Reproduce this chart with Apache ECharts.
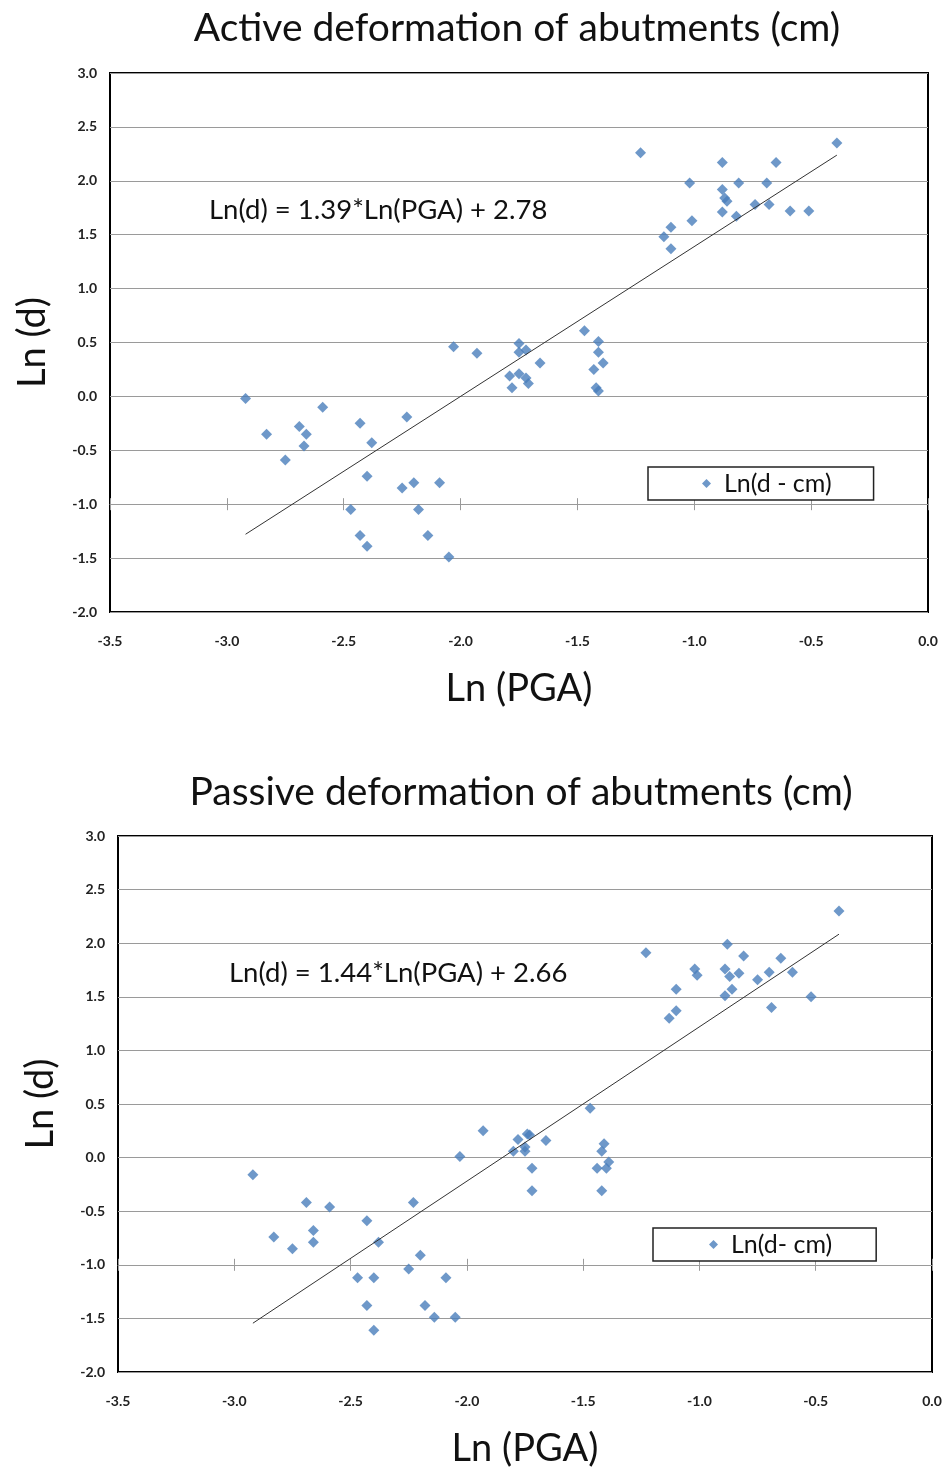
<!DOCTYPE html>
<html><head><meta charset="utf-8">
<script src="https://cdn.jsdelivr.net/npm/echarts@6/dist/echarts.min.js"></script>
<style>html,body{margin:0;padding:0;background:#fff}#c{width:946px;height:1469px}</style>
</head><body><div id="c"></div>
<script>
// ---- Data ----
const activePGA = [-2.92,-2.83,-2.75,-2.69,-2.66,-2.67,-2.59,-2.43,-2.38,-2.40,-2.47,-2.43,-2.40,-2.25,-2.23,-2.20,-2.18,-2.14,-2.09,-2.05,-2.03,-1.93,
  -1.75,-1.75,-1.72,-1.66,-1.79,-1.75,-1.72,-1.71,-1.78,-1.47,-1.41,-1.41,-1.39,-1.43,-1.42,-1.41,
  -1.23,-0.88,-0.65,-0.39,-1.02,-0.81,-0.69,-0.88,-0.87,-0.86,-0.74,-0.68,-0.59,-0.51,-0.88,-0.82,-1.01,-1.10,-1.13,-1.10];
const activeD = [-0.02,-0.35,-0.59,-0.28,-0.35,-0.46,-0.10,-0.25,-0.43,-0.74,-1.05,-1.29,-1.39,-0.85,-0.19,-0.80,-1.05,-1.29,-0.80,-1.49,0.46,0.40,
  0.49,0.41,0.43,0.31,0.19,0.21,0.17,0.12,0.08,0.61,0.51,0.41,0.31,0.25,0.08,0.05,
  2.26,2.17,2.17,2.35,1.98,1.98,1.98,1.92,1.84,1.81,1.78,1.78,1.72,1.72,1.71,1.67,1.63,1.57,1.48,1.37];
const passivePGA = [-2.92,-2.69,-2.59,-2.83,-2.75,-2.66,-2.66,-2.43,-2.38,-2.23,-2.20,-2.25,-2.47,-2.40,-2.09,-2.43,-2.18,-2.14,-2.05,-2.40,-2.03,
  -1.93,-1.78,-1.74,-1.73,-1.66,-1.80,-1.75,-1.75,-1.72,-1.72,-1.47,-1.41,-1.42,-1.39,-1.44,-1.40,-1.42,
  -1.23,-0.88,-0.81,-0.65,-0.40,-1.02,-1.01,-0.89,-0.87,-0.83,-0.70,-0.60,-0.75,-1.10,-0.86,-0.89,-0.52,-0.69,-1.10,-1.13];
const passiveD = [-0.16,-0.42,-0.46,-0.74,-0.85,-0.68,-0.79,-0.59,-0.79,-0.42,-0.91,-1.04,-1.12,-1.12,-1.12,-1.38,-1.38,-1.49,-1.49,-1.61,0.01,
  0.25,0.17,0.22,0.21,0.16,0.06,0.06,0.10,-0.10,-0.31,0.46,0.13,0.06,-0.04,-0.10,-0.10,-0.31,
  1.91,1.99,1.88,1.86,2.30,1.76,1.70,1.76,1.69,1.72,1.73,1.73,1.66,1.57,1.57,1.51,1.50,1.40,1.37,1.30];
const activeFit = {slope: 1.39, intercept: 2.78};
const passiveFit = {slope: 1.44, intercept: 2.66};
const titles = ['Active deformation of abutments (cm)', 'Passive deformation of abutments (cm)'];
const equations = ['Ln(d) = 1.39*Ln(PGA) + 2.78', 'Ln(d) = 1.44*Ln(PGA) + 2.66'];
const legendNames = ['Ln(d - cm)', 'Ln(d- cm)'];
const xName = 'Ln (PGA)', yName = 'Ln (d)';

// ---- Layout ----
const grids = [
  {left: 110, top: 73, width: 818, height: 539},
  {left: 118, top: 836, width: 814, height: 536}
];
const FONT = 'Lato, "Open Sans", sans-serif';
const fmt = v => v.toFixed(1);

function fitLine(xs, fit) {
  const mn = Math.min(...xs), mx = Math.max(...xs);
  return [[mn, fit.slope * mn + fit.intercept], [mx, fit.slope * mx + fit.intercept]];
}

const xAxes = [], yAxes = [], series = [];
grids.forEach((g, gi) => {
  yAxes.push({
    type: 'value', gridIndex: gi, min: -2, max: 3, interval: 0.5,
    name: yName, nameLocation: 'middle', nameGap: 58, nameRotate: 90,
    nameTextStyle: {fontFamily: FONT, fontSize: 38, color: '#111'},
    axisLine: {show: false, onZero: false}, axisTick: {show: false},
    axisLabel: {formatter: fmt, fontFamily: FONT, fontWeight: 'bold', fontSize: 14, color: '#222', margin: 13,
      showMinLabel: true, showMaxLabel: true},
    splitLine: {show: true, lineStyle: {color: '#9a9a9a', width: 1}}
  });
  // label axis at the bottom
  xAxes.push({
    type: 'value', gridIndex: gi, position: 'bottom', min: -3.5, max: 0, interval: 0.5,
    name: xName, nameLocation: 'middle', nameGap: 58,
    nameTextStyle: {fontFamily: FONT, fontSize: 38, color: '#111'},
    axisLine: {show: false, onZero: false}, axisTick: {show: false}, splitLine: {show: false},
    axisLabel: {formatter: fmt, fontFamily: FONT, fontWeight: 'bold', fontSize: 14, color: '#222', margin: 22,
      showMinLabel: true, showMaxLabel: true}
  });
  // crossing axis line at Ln(d) = -1 with ticks on both sides
  [false, true].forEach(inside => {
    xAxes.push({
      type: 'value', gridIndex: gi, position: 'bottom', min: -3.5, max: 0, interval: 0.5,
      offset: -g.height / 5,
      axisLine: {show: !inside, onZero: false, lineStyle: {color: '#9a9a9a', width: 1}},
      axisTick: {show: true, inside: inside, length: 6, lineStyle: {color: '#9a9a9a', width: 1}},
      axisLabel: {show: false}, splitLine: {show: false}
    });
  });
});

const sets = [[activePGA, activeD, activeFit], [passivePGA, passiveD, passiveFit]];
sets.forEach(([xs, ys, fit], gi) => {
  series.push({
    type: 'scatter', name: legendNames[gi], xAxisIndex: gi * 3, yAxisIndex: gi,
    data: xs.map((x, i) => [x, ys[i]]), symbol: 'diamond', symbolSize: 11,
    itemStyle: {color: '#4a7ebb'}, z: 3
  });
  series.push({
    type: 'line', xAxisIndex: gi * 3, yAxisIndex: gi, data: fitLine(xs, fit),
    symbol: 'none', silent: true, lineStyle: {color: '#333', width: 1}, z: 4
  });
});

const legendBase = {icon: 'diamond', itemWidth: 9, itemHeight: 9, borderColor: '#222', borderWidth: 1.5,
  backgroundColor: '#fff', textStyle: {fontFamily: FONT, fontSize: 25, color: '#111', padding: [0, 0, 0, 8]}};
const option = {
  backgroundColor: '#fff',
  animation: false,
  grid: grids.map(g => Object.assign({show: true, borderColor: '#000', borderWidth: 2, backgroundColor: 'transparent'}, g)),
  xAxis: xAxes,
  yAxis: yAxes,
  series: series,
  legend: [
    Object.assign({data: [legendNames[0]], left: 648, top: 467, padding: [4, 42, 4, 54]}, legendBase),
    Object.assign({data: [legendNames[1]], left: 653, top: 1228, padding: [4, 44, 4, 56]}, legendBase)
  ],
  graphic: [
    {type: 'text', x: 517, y: 28, style: {text: titles[0], font: '39px ' + FONT, fill: '#111', textAlign: 'center', textVerticalAlign: 'middle'}},
    {type: 'text', x: 521, y: 792, style: {text: titles[1], font: '39px ' + FONT, fill: '#111', textAlign: 'center', textVerticalAlign: 'middle'}},
    {type: 'text', x: 209, y: 210, style: {text: equations[0], font: '27.5px ' + FONT, fill: '#111', textAlign: 'left', textVerticalAlign: 'middle'}},
    {type: 'text', x: 229, y: 973, style: {text: equations[1], font: '27.5px ' + FONT, fill: '#111', textAlign: 'left', textVerticalAlign: 'middle'}}
  ]
};
const chart = echarts.init(document.getElementById('c'), null, {renderer: 'canvas'});
chart.setOption(option);
</script></body></html>
